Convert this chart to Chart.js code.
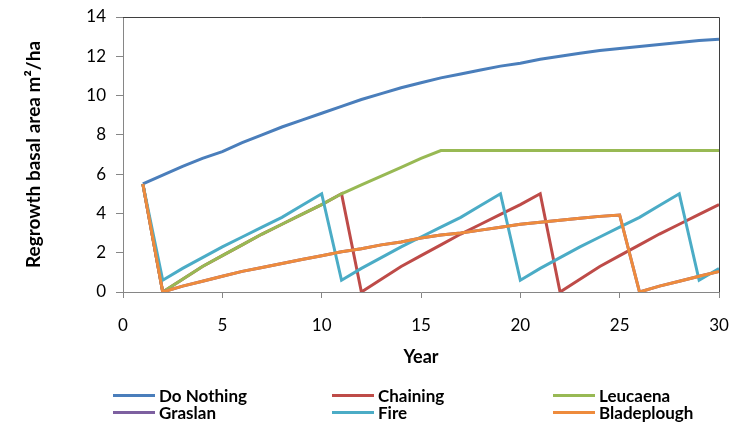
<!DOCTYPE html>
<html>
<head>
<meta charset="utf-8">
<script src="https://cdn.jsdelivr.net/npm/chart.js@4/dist/chart.umd.min.js"></script>
<style>
  html, body { margin: 0; padding: 0; background: #fff; }
  #wrap { position: relative; width: 734px; height: 428px; overflow: hidden; }
  #legend { position: absolute; left: 0; top: 0; width: 734px; height: 428px; pointer-events: none;
            font-family: Lato, "Open Sans", sans-serif; font-size: 17px; font-weight: bold; color: #000; }
  .item { position: absolute; display: flex; align-items: center; height: 18px; white-space: nowrap; }
  .swatch { width: 42px; height: 3px; margin-right: 4px; }
</style>
</head>
<body>
<div id="wrap">
  <canvas id="c" width="734" height="428"></canvas>
  <div id="legend"></div>
</div>
<script>
// ---- data ----
const years = [1,2,3,4,5,6,7,8,9,10,11,12,13,14,15,16,17,18,19,20,21,22,23,24,25,26,27,28,29,30];
const seriesNames = ["Do Nothing", "Chaining", "Leucaena", "Graslan", "Fire", "Bladeplough"];
const seriesColors = ["#4A7EBB", "#BE4B48", "#98B954", "#7D60A0", "#4BACC6", "#EE8B3C"];

const doNothing = [5.5,5.95,6.4,6.8,7.15,7.6,8.0,8.4,8.75,9.1,9.45,9.8,10.1,10.4,10.65,10.9,11.1,11.3,11.5,11.65,11.85,12.0,12.15,12.3,12.4,12.5,12.6,12.7,12.8,12.87];
const chaining  = [5.5,0,0.65,1.3,1.85,2.4,2.95,3.45,3.95,4.45,5.0,0,0.65,1.3,1.85,2.4,2.95,3.45,3.95,4.45,5.0,0,0.65,1.3,1.85,2.4,2.95,3.45,3.95,4.45];
const leucaena  = [5.5,0,0.65,1.3,1.85,2.4,2.95,3.45,3.95,4.45,5.0,5.45,5.9,6.35,6.8,7.2,7.2,7.2,7.2,7.2,7.2,7.2,7.2,7.2,7.2,7.2,7.2,7.2,7.2,7.2];
const graslan   = [5.5,0,0.3,0.55,0.8,1.05,1.25,1.45,1.65,1.85,2.05,2.2,2.4,2.55,2.75,2.9,3.0,3.15,3.3,3.45,3.55,3.65,3.75,3.85,3.92,0,0.3,0.55,0.8,1.05];
const fire      = [5.5,0.6,1.2,1.75,2.3,2.8,3.3,3.8,4.4,5.0,0.6,1.2,1.75,2.3,2.8,3.3,3.8,4.4,5.0,0.6,1.2,1.75,2.3,2.8,3.3,3.8,4.4,5.0,0.6,1.2];
const bladeplough = [5.5,0,0.3,0.55,0.8,1.05,1.25,1.45,1.65,1.85,2.05,2.2,2.4,2.55,2.75,2.9,3.0,3.15,3.3,3.45,3.55,3.65,3.75,3.85,3.92,0,0.3,0.55,0.8,1.05];

const xTicks = [0,5,10,15,20,25,30];
const yTicks = [0,2,4,6,8,10,12,14];

const allSeries = [doNothing, chaining, leucaena, graslan, fire, bladeplough];

// ---- chart ----
const FONT = 'Lato, "Open Sans", sans-serif';
const datasets = allSeries.map((vals, i) => ({
  label: seriesNames[i],
  data: years.map((yr, k) => ({ x: yr, y: vals[k] })),
  borderColor: seriesColors[i],
  backgroundColor: seriesColors[i],
  borderWidth: 3,
  pointRadius: 0,
  tension: 0,
  fill: false,
  order: allSeries.length - 1 - i
}));

const framePlugin = {
  id: 'frame',
  beforeDatasetsDraw(chart) {
    const a = chart.chartArea, ctx = chart.ctx;
    ctx.save();
    ctx.strokeStyle = '#3f3f3f';
    ctx.lineWidth = 1;
    ctx.beginPath();
    ctx.moveTo(a.left, a.top + 0.5);
    ctx.lineTo(a.right + 0.5, a.top + 0.5);
    ctx.lineTo(a.right + 0.5, a.bottom);
    ctx.stroke();
    ctx.restore();
  }
};

new Chart(document.getElementById('c'), {
  type: 'line',
  data: { datasets },
  plugins: [framePlugin],
  options: {
    responsive: false,
    animation: false,
    layout: { padding: { left: 19, right: 15, top: 17, bottom: 56 } },
    plugins: { legend: { display: false }, tooltip: { enabled: false } },
    scales: {
      x: {
        type: 'linear', min: 0, max: 30,
        afterFit: s => { s.height = 80; s.paddingLeft = 0; s.paddingRight = 0; },
        afterBuildTicks: s => { s.ticks = xTicks.map(v => ({ value: v })); },
        grid: { drawOnChartArea: false, drawTicks: true, tickLength: 6, color: '#868686' },
        border: { color: '#868686', width: 1 },
        ticks: { padding: 17, color: '#000', font: { family: FONT, size: 17 }, maxRotation: 0 },
        title: { display: true, text: 'Year', color: '#000', font: { family: FONT, size: 18, weight: 'bold' }, padding: { top: 4, bottom: 4 } }
      },
      y: {
        min: 0, max: 14,
        afterFit: s => { s.width = 104; s.paddingTop = 0; s.paddingBottom = 0; },
        afterBuildTicks: s => { s.ticks = yTicks.map(v => ({ value: v })); },
        grid: { drawOnChartArea: false, drawTicks: true, tickLength: 7, color: '#868686' },
        border: { color: '#868686', width: 1 },
        ticks: { padding: 10, color: '#000', font: { family: FONT, size: 17 } },
        title: { display: true, text: 'Regrowth basal area m²/ha', color: '#000', font: { family: FONT, size: 19, weight: 'bold' }, padding: { top: 3, bottom: 4 } }
      }
    }
  }
});

// ---- legend (built from series names/colours) ----
const legend = document.getElementById('legend');
const colX = [113, 332, 553];
const rowY = [386, 403];
seriesNames.forEach((name, i) => {
  const el = document.createElement('div');
  el.className = 'item';
  el.style.left = colX[i % 3] + 'px';
  el.style.top = rowY[Math.floor(i / 3)] + 'px';
  const sw = document.createElement('div');
  sw.className = 'swatch';
  sw.style.background = seriesColors[i];
  const tx = document.createElement('span');
  tx.textContent = name;
  el.appendChild(sw); el.appendChild(tx);
  legend.appendChild(el);
});
</script>
</body>
</html>
